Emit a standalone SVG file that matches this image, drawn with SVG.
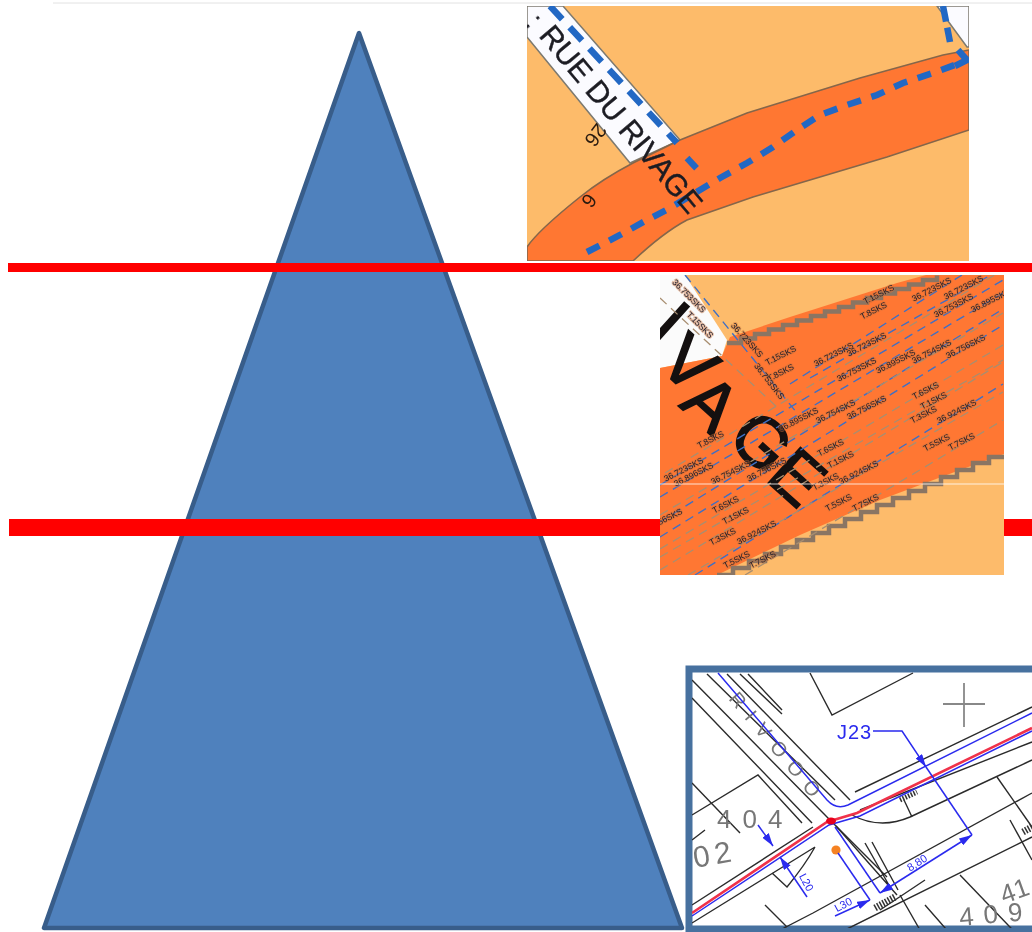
<svg xmlns="http://www.w3.org/2000/svg" width="1032" height="932" viewBox="0 0 1032 932">
<style>
.s{font-family:"Liberation Sans",Arial,sans-serif;font-size:8.5px;fill:#1c1c2a;paint-order:stroke;stroke:#c8703c;stroke-opacity:.45;stroke-width:2}
.b{fill:none;stroke:#3f6fc4;stroke-width:1.4;stroke-dasharray:9 6}
.g{fill:none;stroke:#a88e70;stroke-width:1.3;stroke-dasharray:9 6}
.k{fill:none;stroke:#2b2b2b;stroke-width:1.4}
.bl{fill:none;stroke:#2a2aee;stroke-width:1.5}
.gt{font-family:"Liberation Sans",Arial,sans-serif;fill:#777}
.dt{font-family:"Liberation Sans",Arial,sans-serif;fill:#2a2aee;font-size:11px}
.p1{fill:none;stroke:#2368c4;stroke-width:6.5}
</style>
<defs>
<filter id="soft" x="-2%" y="-2%" width="104%" height="104%"><feGaussianBlur stdDeviation="0.7"/></filter>
<filter id="soft2" x="-2%" y="-2%" width="104%" height="104%"><feGaussianBlur stdDeviation="0.35"/></filter>
<filter id="soft3" x="-2%" y="-2%" width="104%" height="104%"><feGaussianBlur stdDeviation="0.5"/></filter>
<clipPath id="c1"><rect x="527" y="6" width="442" height="255"/></clipPath>
<clipPath id="c2"><rect x="660" y="275" width="344" height="300"/></clipPath>
<clipPath id="c3"><rect x="692" y="672" width="340" height="256"/></clipPath>
<marker id="ah" viewBox="0 0 13 8" refX="13" refY="4" markerWidth="13" markerHeight="8" markerUnits="userSpaceOnUse" orient="auto-start-reverse"><path d="M0 0L13 4L0 8Z" fill="#2a2aee"/></marker>
</defs>
<line id="top-rule" x1="53" y1="3" x2="1032" y2="3" stroke="#e2e2e2" stroke-width="1"/>
<polygon id="pyramid" points="359,33 44,928 682,928" fill="#4f81bd" stroke="#385d8a" stroke-width="4.5" stroke-linejoin="round"/>
<rect id="band-upper" x="8" y="263" width="1024" height="9" fill="#ff0000"/>
<rect id="band-lower" x="9" y="519" width="1023" height="17" fill="#ff0000"/>

<g id="map-top" clip-path="url(#c1)">
<g filter="url(#soft)">
<rect x="527" y="6" width="442" height="255" fill="#fdbb6b"/>
<polygon points="527,37 630,163 680,140 563,6 527,6" fill="#fbfbff" stroke="#7d7a70" stroke-width="1.5"/>
<polygon points="937,6 967,47 969,47 969,6" fill="#fbfbff" stroke="#7d7a70" stroke-width="1.5"/>
<path d="M969,50 L943,55 L860,78 L747,113 L680,140 L633,163 C610,175 595,185 580,197 C560,213 535,235 527,247 L527,261 L633,261 C650,245 668,230 687,220 L753,197 L887,157 L969,130Z" fill="#ff7733" stroke="#85664a" stroke-width="1.6"/>
<path class="p1" stroke-dasharray="18 11" d="M550,6 L677,143"/>
<path class="p1" stroke-dasharray="14 6" d="M687,158 L700,172"/>
<path class="p1" stroke-dasharray="14 11" d="M587,252 L620,235 L647,220 L670,208 L720,178 L747,163 L773,147 L797,130 L820,115 L847,105 L877,95 L903,83 L933,73 L960,63"/>
<path class="p1" stroke-dasharray="16 6" d="M943,6 L950,42"/>
<path class="p1" d="M958,50 L967,60 L955,66"/>
<text transform="translate(538,36) rotate(50)" font-family="Liberation Sans,Arial,sans-serif" font-size="30" fill="#1c1c24" stroke="#1c1c24" stroke-width="0.4">RUE DU RIVAGE</text>
<text transform="translate(524,24) rotate(50)" font-family="Liberation Sans,Arial,sans-serif" font-size="30" fill="#1c1c24">:</text>
<text transform="translate(597,122) rotate(127)" font-family="Liberation Sans,Arial,sans-serif" font-size="20" fill="#2a1a10">26</text>
<text transform="translate(587,192) rotate(127)" font-family="Liberation Sans,Arial,sans-serif" font-size="20" fill="#2a1a10">6</text>
</g>
</g>

<g id="map-middle" clip-path="url(#c2)">
<rect x="660" y="275" width="344" height="300" fill="#fdbb6b"/>
<polygon points="660,275 685,275 727,340 722,356 660,368" fill="#fbfbfb"/>
<path d="M660,368 L722,356 L730,337 L790,317 L897,283 L937,272 L1004,272 L1004,454 L960,470 L880,500 L800,535 L717,575 L660,575Z" fill="#ff7733"/>
<g filter="url(#soft3)">
<path d="M727,343 h14 v-4.5 h14 v-4.5 h14 v-4.5 h14 v-4.5 h14 v-4.5 h14 v-4.5 h14 v-4.5 h14 v-4.5 h14 v-4.5 h14 v-4.5 h14 v-4.5 h14 v-4.5 h14 v-4.5 h14 v-4.5 h14 v-4.5" fill="none" stroke="#8a7464" stroke-width="4.5"/>
<path d="M717,575 h16 v-7 h16 v-7 h16 v-7 h16 v-7 h16 v-7 h16 v-7 h16 v-7 h16 v-7 h16 v-7 h16 v-7 h16 v-7 h16 v-7 h16 v-7 h16 v-7 h16 v-7 h16 v-7 h16 v-6 h16" fill="none" stroke="#8a7464" stroke-width="4.5"/>
</g>
<text transform="translate(762,441) rotate(42)" x="-157 -129 -86 -27 27" y="-3 15 30 25 27" font-family="Liberation Sans,Arial,sans-serif" font-size="70" fill="#141010" stroke="#141010" stroke-width="1.6">IVAGE</text>
<g filter="url(#soft2)">
<path class="b" d="M790,384 L962,275"/>
<path class="b" d="M810,378 L1003,268"/>
<path class="b" d="M660,485 L1003,280"/>
<path class="b" d="M660,497 L1003,293"/>
<path class="b" d="M660,522 L1003,309"/>
<path class="b" d="M660,537 L1003,325"/>
<path class="b" d="M695,575 L1003,384"/>
<path class="b" d="M685,275 L797,413"/>
<path class="g" d="M665,473 L1003,270"/>
<path class="g" d="M660,515 L1003,313"/>
<path class="g" d="M660,570 L1003,362"/>
<path class="g" d="M660,557 L1003,360"/>
<path class="g" d="M660,549 L1003,345"/>
<path class="g" d="M688,575 L1003,392"/>
<path class="g" d="M745,575 L1003,420"/>
<path class="g" d="M660,298 L780,410"/>
<g>
<text class="s" text-anchor="middle" transform="translate(880,297) rotate(-27)">T.15SKS</text>
<text class="s" text-anchor="middle" transform="translate(875,313) rotate(-27)">T.8SKS</text>
<text class="s" text-anchor="middle" transform="translate(933,292) rotate(-27)">36.723SKS</text>
<text class="s" text-anchor="middle" transform="translate(965,290) rotate(-27)">36.723SKS</text>
<text class="s" text-anchor="middle" transform="translate(955,308) rotate(-27)">36.753SKS</text>
<text class="s" text-anchor="middle" transform="translate(992,303) rotate(-27)">36.895SKS</text>
<text class="s" text-anchor="middle" transform="translate(782,358) rotate(-27)">T.15SKS</text>
<text class="s" text-anchor="middle" transform="translate(782,375) rotate(-27)">T.8SKS</text>
<text class="s" text-anchor="middle" transform="translate(835,357) rotate(-27)">36.723SKS</text>
<text class="s" text-anchor="middle" transform="translate(868,347) rotate(-27)">36.723SKS</text>
<text class="s" text-anchor="middle" transform="translate(858,372) rotate(-27)">36.753SKS</text>
<text class="s" text-anchor="middle" transform="translate(897,364) rotate(-27)">36.895SKS</text>
<text class="s" text-anchor="middle" transform="translate(933,354) rotate(-27)">36.754SKS</text>
<text class="s" text-anchor="middle" transform="translate(967,349) rotate(-27)">36.756SKS</text>
<text class="s" text-anchor="middle" transform="translate(927,393) rotate(-27)">T.6SKS</text>
<text class="s" text-anchor="middle" transform="translate(935,403) rotate(-27)">T.1SKS</text>
<text class="s" text-anchor="middle" transform="translate(925,417) rotate(-27)">T.3SKS</text>
<text class="s" text-anchor="middle" transform="translate(958,414) rotate(-27)">36.924SKS</text>
<text class="s" text-anchor="middle" transform="translate(837,414) rotate(-27)">36.754SKS</text>
<text class="s" text-anchor="middle" transform="translate(868,410) rotate(-27)">36.756SKS</text>
<text class="s" text-anchor="middle" transform="translate(800,422) rotate(-27)">36.895SKS</text>
<text class="s" text-anchor="middle" transform="translate(712,442) rotate(-27)">T.8SKS</text>
<text class="s" text-anchor="middle" transform="translate(685,472) rotate(-27)">36.723SKS</text>
<text class="s" text-anchor="middle" transform="translate(695,477) rotate(-27)">36.896SKS</text>
<text class="s" text-anchor="middle" transform="translate(732,475) rotate(-27)">36.754SKS</text>
<text class="s" text-anchor="middle" transform="translate(768,472) rotate(-27)">36.756SKS</text>
<text class="s" text-anchor="middle" transform="translate(832,450) rotate(-27)">T.6SKS</text>
<text class="s" text-anchor="middle" transform="translate(842,462) rotate(-27)">T.1SKS</text>
<text class="s" text-anchor="middle" transform="translate(827,484) rotate(-27)">T.3SKS</text>
<text class="s" text-anchor="middle" transform="translate(860,475) rotate(-27)">36.924SKS</text>
<text class="s" text-anchor="middle" transform="translate(938,445) rotate(-27)">T.5SKS</text>
<text class="s" text-anchor="middle" transform="translate(963,444) rotate(-27)">T.7SKS</text>
<text class="s" text-anchor="middle" transform="translate(664,523) rotate(-27)">36.756SKS</text>
<text class="s" text-anchor="middle" transform="translate(727,507) rotate(-27)">T.6SKS</text>
<text class="s" text-anchor="middle" transform="translate(737,518) rotate(-27)">T.1SKS</text>
<text class="s" text-anchor="middle" transform="translate(724,539) rotate(-27)">T.3SKS</text>
<text class="s" text-anchor="middle" transform="translate(758,535) rotate(-27)">36.924SKS</text>
<text class="s" text-anchor="middle" transform="translate(840,505) rotate(-27)">T.5SKS</text>
<text class="s" text-anchor="middle" transform="translate(867,505) rotate(-27)">T.7SKS</text>
<text class="s" text-anchor="middle" transform="translate(738,562) rotate(-27)">T.5SKS</text>
<text class="s" text-anchor="middle" transform="translate(764,562) rotate(-27)">T.7SKS</text>
<text class="s" text-anchor="middle" transform="translate(687,298) rotate(45)">36.753SKS</text>
<text class="s" text-anchor="middle" transform="translate(698,327) rotate(45)">T.15SKS</text>
<text class="s" text-anchor="middle" transform="translate(745,342) rotate(48)">36.723SKS</text>
<text class="s" text-anchor="middle" transform="translate(767,383) rotate(52)">36.753SKS</text>
</g>
</g>
<line x1="660" y1="484" x2="1004" y2="484" stroke="#ffffff" stroke-opacity="0.8" stroke-width="1"/>
</g>

<g id="map-bottom">
<rect x="689" y="669" width="400" height="260" fill="#ffffff" stroke="#47719f" stroke-width="7"/>
<g clip-path="url(#c3)">
<g filter="url(#soft3)">
<path class="k" d="M692,680 L827,817 L887,877 M692,698 L812,823 M707,674 L835,800 M727,674 L850,800 M740,674 L782,714 M748,674 L782,710"/>
<path class="k" d="M836,826 L897,895 M865,843 L890,887 M872,842 L898,890"/>
<path class="k" d="M810,673 L832,715 L913,673"/>
<path d="M943,704H985M964,683V727" fill="none" stroke="#888" stroke-width="1.8"/>
<path class="k" d="M855,792 L1032,707 M860,810 L1032,742 M852,815 Q880,830 910,817 L1032,760"/>
<path class="k" d="M813,913 L1032,793 M780,930 L813,913 M845,930 L1032,837 M997,777 L1032,827 M904,800 L912,817"/>
<path class="k" d="M692,815 L758,775 L802,823 M692,783 L740,833 M692,840 L705,830 M692,905 L813,827 M692,923 L815,847 M765,905 L787,927 M772,873 L787,887 Q805,865 815,847"/>
<path class="k" d="M880,910 L925,880 M925,905 L960,945 M960,875 L1032,950 M1010,820 L1032,860 M900,895 L920,930"/>
<line x1="875" y1="908" x2="895" y2="897" stroke="#333" stroke-width="7" stroke-dasharray="1.5 1.5"/>
<line x1="900" y1="800" x2="917" y2="792" stroke="#333" stroke-width="5" stroke-dasharray="1.5 1.5"/>
<line x1="1023" y1="832" x2="1032" y2="827" stroke="#333" stroke-width="7" stroke-dasharray="1.5 1.5"/>
<text class="gt" transform="translate(728,699) rotate(50)" font-size="20" letter-spacing="10">RIVOOO</text>
<text class="gt" x="717" y="828" font-size="26" letter-spacing="11">404</text>
<text class="gt" transform="translate(695,868) rotate(-10)" font-size="30" letter-spacing="5">02</text>
<text class="gt" transform="translate(960,926) rotate(-5)" font-size="26" letter-spacing="10">409</text>
<text class="gt" transform="translate(1004,904) rotate(-20)" font-size="26">41</text>
<path class="bl" d="M718,673 L827,800 Q836,810 848,805 L1032,713"/>
<path d="M692,913 L827,822 L857,813 L1032,728" fill="none" stroke="#f0304a" stroke-width="2.6"/>
<path class="bl" d="M692,916 L829,825 L860,816 L1032,731"/>
<ellipse cx="831" cy="821" rx="5" ry="3.5" fill="#e8001c"/>
<circle cx="836" cy="850" r="4.6" fill="#f58220"/>
<path class="bl" d="M873,731 H902 L926,767" marker-end="url(#ah)"/>
<path class="bl" d="M926,767 L972,835"/>
<path class="bl" d="M972,835 L880,893" marker-end="url(#ah)" marker-start="url(#ah)"/>
<path class="bl" d="M835,827 L880,893"/>
<path class="bl" d="M838,853 L870,900"/>
<path class="bl" d="M835,916 L870,900" marker-end="url(#ah)"/>
<path class="bl" d="M807,897 L780,857" marker-end="url(#ah)"/>
<path class="bl" d="M758,825 L773,846" marker-end="url(#ah)"/>
<text x="837" y="739" font-family="Liberation Sans,Arial,sans-serif" font-size="20" letter-spacing="1" fill="#2a2aee">J23</text>
<text class="dt" text-anchor="middle" transform="translate(919,866) rotate(-32)">8,80</text>
<text class="dt" text-anchor="middle" transform="translate(845,908) rotate(-28)">L30</text>
<text class="dt" text-anchor="middle" transform="translate(803,884) rotate(62)">L20</text>
</g>
</g>
</g>
</svg>
